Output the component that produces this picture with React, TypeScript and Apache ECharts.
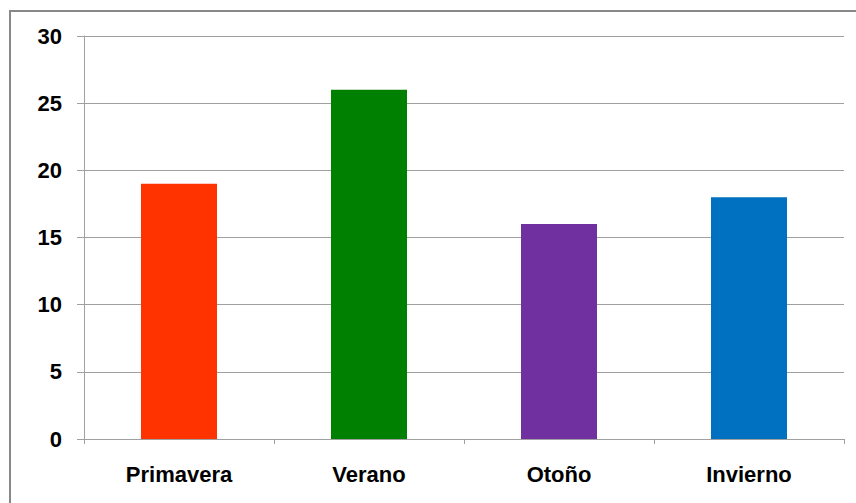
import React, { useEffect, useRef } from "react";
import * as echarts from "echarts";

const categories = ["Primavera", "Verano", "Otoño", "Invierno"];
const values = [19, 26, 16, 18];
const barColors = ["#FF3300", "#008000", "#7030A0", "#0070C0"];
const yTicks = { min: 0, max: 30, interval: 5 };

export default function App() {
  const ref = useRef<HTMLDivElement>(null);
  useEffect(() => {
    document.body.style.margin = "0";
    const chart = echarts.init(ref.current!, null, { renderer: "svg" });
    chart.setOption({
      animation: false,
      backgroundColor: "#ffffff",
      graphic: [
        {
          type: "rect",
          shape: { x: 10, y: 11, width: 900, height: 600 },
          style: { fill: "none", stroke: "#888888", lineWidth: 2 },
          silent: true,
        },
      ],
      grid: { left: 84, right: 12, top: 36, bottom: 64 },
      xAxis: {
        type: "category",
        data: categories,
        axisLine: { lineStyle: { color: "#A0A0A0", width: 1 } },
        axisTick: { show: true, length: 5, lineStyle: { color: "#A0A0A0" } },
        axisLabel: {
          margin: 24,
          color: "#000000",
          fontFamily: "Liberation Sans, Arial, sans-serif",
          fontWeight: "bold",
          fontSize: 22,
        },
      },
      yAxis: {
        type: "value",
        min: yTicks.min,
        max: yTicks.max,
        interval: yTicks.interval,
        axisLine: { show: true, lineStyle: { color: "#A0A0A0", width: 1 } },
        axisTick: { show: true, length: 7, lineStyle: { color: "#A0A0A0" } },
        splitLine: { lineStyle: { color: "#A0A0A0", width: 1 } },
        axisLabel: {
          margin: 22,
          color: "#000000",
          fontFamily: "Liberation Sans, Arial, sans-serif",
          fontWeight: "bold",
          fontSize: 22,
        },
      },
      series: [
        {
          type: "bar",
          barWidth: "40%",
          data: values.map((v, i) => ({ value: v, itemStyle: { color: barColors[i] } })),
        },
      ],
    });
    return () => chart.dispose();
  }, []);
  return <div ref={ref} style={{ width: 856, height: 503 }} />;
}
